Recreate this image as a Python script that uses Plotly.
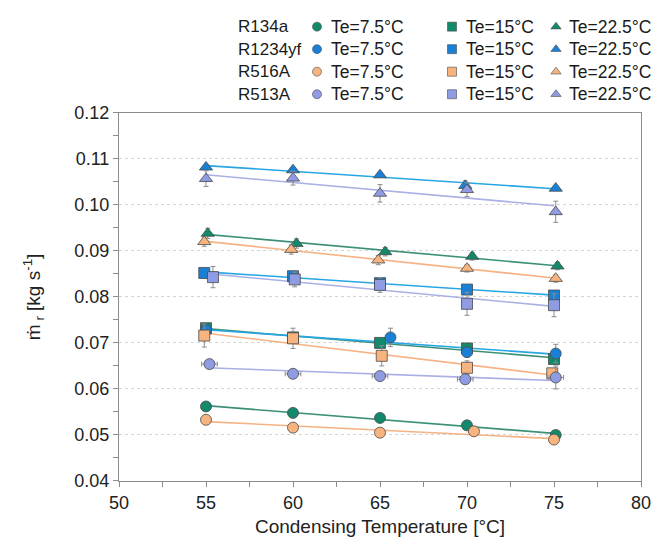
import numpy as np
import plotly.graph_objects as go

# ---------------- data ----------------
refrigerants = ["R134a", "R1234yf", "R516A", "R513A"]
te_labels = ["Te=7.5°C", "Te=15°C", "Te=22.5°C"]

# R134a
r134a_75_x = [55.0, 60.0, 65.0, 70.0, 75.1]
r134a_75_y = [0.0562, 0.0548, 0.0537, 0.0521, 0.0500]
r134a_75_e = [0.0003, 0.0003, 0.0003, 0.0003, 0.0003]
r134a_15_x = [55.0, 60.0, 65.0, 70.0, 75.0]
r134a_15_y = [0.0732, 0.0712, 0.0700, 0.0688, 0.0665]
r134a_15_e = [0.0008, 0.0008, 0.0008, 0.0008, 0.0008]
r134a_22_x = [55.1, 60.2, 65.3, 70.3, 75.2]
r134a_22_y = [0.0938, 0.0916, 0.0898, 0.0888, 0.0867]
r134a_22_e = [0.0011, 0.0010, 0.0009, 0.0008, 0.0008]

# R1234yf
r1234yf_75_x = [55.0, 60.0, 65.6, 70.0, 75.1]
r1234yf_75_y = [0.0728, 0.0712, 0.0712, 0.0680, 0.0677]
r1234yf_75_e = [0.0008, 0.0008, 0.0020, 0.0010, 0.0020]
r1234yf_15_x = [54.9, 60.0, 65.0, 70.0, 75.0]
r1234yf_15_y = [0.0852, 0.0845, 0.0830, 0.0816, 0.0803]
r1234yf_15_e = [0.0009, 0.0010, 0.0010, 0.0010, 0.0009]
r1234yf_22_x = [55.0, 60.0, 65.0, 69.9, 75.1]
r1234yf_22_y = [0.1082, 0.1076, 0.1065, 0.1042, 0.1036]
r1234yf_22_e = [0.0005, 0.0005, 0.0005, 0.0010, 0.0005]

# R516A
r516a_75_x = [55.0, 60.0, 65.0, 70.4, 75.0]
r516a_75_y = [0.0533, 0.0516, 0.0505, 0.0508, 0.0490]
r516a_75_e = [0.0003, 0.0003, 0.0003, 0.0003, 0.0003]
r516a_15_x = [54.9, 60.0, 65.1, 70.0, 74.9]
r516a_15_y = [0.0716, 0.0710, 0.0672, 0.0646, 0.0634]
r516a_15_e = [0.0025, 0.0022, 0.0022, 0.0015, 0.0010]
r516a_22_x = [54.9, 59.9, 64.9, 70.0, 75.1]
r516a_22_y = [0.0920, 0.0903, 0.0880, 0.0862, 0.0840]
r516a_22_e = [0.0010, 0.0010, 0.0010, 0.0008, 0.0008]

# R513A
r513a_75_x = [55.2, 60.0, 65.0, 69.9, 75.1]
r513a_75_y = [0.0654, 0.0633, 0.0628, 0.0621, 0.0625]
r513a_75_e = [0.0004, 0.0004, 0.0004, 0.0004, 0.0025]
r513a_75_ex = [0.45, 0.45, 0.45, 0.45, 0.45]
r513a_15_x = [55.4, 60.1, 65.0, 70.0, 75.0]
r513a_15_y = [0.0843, 0.0838, 0.0826, 0.0785, 0.0782]
r513a_15_e = [0.0023, 0.0016, 0.0016, 0.0025, 0.0025]
r513a_22_x = [55.0, 60.0, 65.0, 70.0, 75.1]
r513a_22_y = [0.1057, 0.1058, 0.1025, 0.1033, 0.0985]
r513a_22_e = [0.0017, 0.0015, 0.0019, 0.0015, 0.0023]

x_ticks = [50, 55, 60, 65, 70, 75, 80]
y_ticks = [0.04, 0.05, 0.06, 0.07, 0.08, 0.09, 0.10, 0.11, 0.12]
y_tick_text = ["0.04", "0.05", "0.06", "0.07", "0.08", "0.09", "0.10", "0.11", "0.12"]

# ---------------- styles ----------------
fill = {"R134a": "#12896a", "R1234yf": "#1a80d6", "R516A": "#f8b47f", "R513A": "#8f9be2"}
linec = {"R134a": "#3d9078", "R1234yf": "#27a6e4", "R516A": "#f6b284", "R513A": "#aab0e4"}
symbols = ["circle", "square", "triangle-up"]
FONT = "Liberation Sans, Arial, sans-serif"

series = {
    "R134a": [(r134a_75_x, r134a_75_y, r134a_75_e, None),
              (r134a_15_x, r134a_15_y, r134a_15_e, None),
              (r134a_22_x, r134a_22_y, r134a_22_e, None)],
    "R1234yf": [(r1234yf_75_x, r1234yf_75_y, r1234yf_75_e, None),
                (r1234yf_15_x, r1234yf_15_y, r1234yf_15_e, None),
                (r1234yf_22_x, r1234yf_22_y, r1234yf_22_e, None)],
    "R516A": [(r516a_75_x, r516a_75_y, r516a_75_e, None),
              (r516a_15_x, r516a_15_y, r516a_15_e, None),
              (r516a_22_x, r516a_22_y, r516a_22_e, None)],
    "R513A": [(r513a_75_x, r513a_75_y, r513a_75_e, r513a_75_ex),
              (r513a_15_x, r513a_15_y, r513a_15_e, None),
              (r513a_22_x, r513a_22_y, r513a_22_e, None)],
}

fig = go.Figure()

# trend lines (least-squares fits) first
for ref in refrigerants:
    for (xs, ys, es, exs) in series[ref]:
        k, b = np.polyfit(xs, ys, 1)
        xl = np.array([55.0, 75.0])
        fig.add_trace(go.Scatter(x=xl, y=k * xl + b, mode="lines",
                                 line=dict(color=linec[ref], width=1.6),
                                 showlegend=False, hoverinfo="skip"))

# markers with error bars
for ref in refrigerants:
    for j, (xs, ys, es, exs) in enumerate(series[ref]):
        tr = go.Scatter(
            x=xs, y=ys, mode="markers",
            marker=dict(symbol=symbols[j], size=11 if j < 2 else 11.5, color=fill[ref],
                        line=dict(color="#4a4a4a", width=0.8)),
            error_y=dict(type="data", array=es, color="#8c8c8c", thickness=1, width=2.5),
            showlegend=False, name=f"{ref} {te_labels[j]}")
        if exs is not None:
            tr.error_x = dict(type="data", array=exs, color="#8c8c8c", thickness=1, width=2.5)
        fig.add_trace(tr)

# ---------------- custom legend (grid) ----------------
row_y = [-17, -40, -63, -86]
col_marker_x = [317, 452, 556]
col_text_x = [329, 464, 567]
label_x = 236
annotations = []
for i, ref in enumerate(refrigerants):
    annotations.append(dict(x=label_x, y=row_y[i], xref="x2", yref="y2", text=ref,
                            showarrow=False, xanchor="left", yanchor="middle",
                            font=dict(family=FONT, size=17, color="#1a1a1a")))
    for j in range(3):
        fig.add_trace(go.Scatter(
            x=[col_marker_x[j]], y=[row_y[i]], xaxis="x2", yaxis="y2", mode="markers",
            marker=dict(symbol=symbols[j], size=9, color=fill[ref],
                        line=dict(color="#4a4a4a", width=0.6)),
            showlegend=False, hoverinfo="skip", cliponaxis=False))
        annotations.append(dict(x=col_text_x[j], y=row_y[i], xref="x2", yref="y2",
                                text=te_labels[j], showarrow=False, xanchor="left",
                                yanchor="middle",
                                font=dict(family=FONT, size=17.5, color="#1a1a1a")))

H = 547
B = 66
paper_h = H - B
main_top = 105

fig.update_layout(
    width=660, height=547,
    margin=dict(l=119, r=19, t=0, b=B),
    paper_bgcolor="white", plot_bgcolor="white",
    font=dict(family=FONT, size=16, color="#222"),
    showlegend=False,
    annotations=annotations,
    xaxis=dict(range=[50, 80], tickvals=x_ticks, ticks="outside", ticklen=5,
               tickcolor="#8c8c8c", showline=True, linecolor="#8c8c8c", linewidth=1,
               mirror=True, showgrid=False, zeroline=False,
               tickfont=dict(size=18, color="#222"),
               minor=dict(dtick=2.5, tick0=50, ticks="outside", ticklen=5, tickcolor="#8c8c8c"),
               title=dict(text="Condensing Temperature [°C]", font=dict(size=19, color="#222"),
                          standoff=8),
               domain=[0, 1], anchor="y"),
    yaxis=dict(range=[0.04, 0.12], tickvals=y_ticks, ticktext=y_tick_text, ticks="outside",
               ticklen=5, tickcolor="#8c8c8c", showline=True, linecolor="#8c8c8c",
               linewidth=1, mirror=True, showgrid=True, gridcolor="#d4d4d4",
               griddash="dot", gridwidth=1, zeroline=False,
               tickfont=dict(size=18, color="#222"),
               minor=dict(dtick=0.005, tick0=0.04, ticks="outside", ticklen=5,
                          tickcolor="#8c8c8c", showgrid=False),
               title=dict(text="ṁ<sub> r</sub> [kg s<sup>-1</sup>]",
                          font=dict(size=19, color="#222"), standoff=28),
               domain=[0, (paper_h - main_top) / paper_h], anchor="x"),
    xaxis2=dict(range=[119, 641], domain=[0, 1], anchor="y2", visible=False,
                fixedrange=True),
    yaxis2=dict(range=[-paper_h * 0.2, 0], domain=[0.8, 1.0], anchor="x2",
                visible=False, fixedrange=True),
)

fig.write_html("out.html")
